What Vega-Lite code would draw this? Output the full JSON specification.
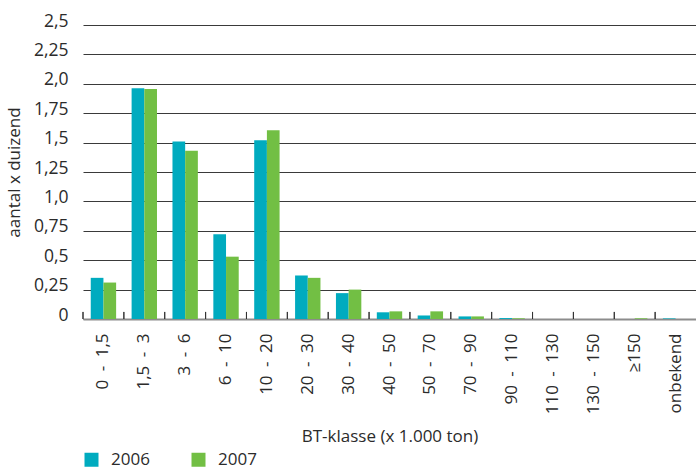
{
  "$schema": "https://vega.github.io/schema/vega-lite/v6.json",
  "autosize": {"type": "none"},
  "padding": {"left": 83, "top": 25, "right": 0, "bottom": 148},
  "width": 613,
  "height": 294,
  "background": "white",
  "config": {
    "view": {"stroke": null},
    "font": "Open Sans",
    "axisY": {
      "titleFont": "Open Sans",
      "titleFontSize": 17,
      "titleFontWeight": "normal",
      "titleColor": "#2b2b2b",
      "titlePadding": 10,
      "labelFont": "Open Sans",
      "labelFontSize": 17.5,
      "labelColor": "#2b2b2b",
      "labelPadding": 15,
      "labelOffset": -4,
      "ticks": false,
      "domain": false,
      "grid": true,
      "gridColor": "#3a3a3a",
      "gridWidth": 1.2
    }
  },
  "data": {
    "values": [
      {"klasse": "0 - 1,5", "jaar": "2006", "waarde": 0.35},
      {"klasse": "0 - 1,5", "jaar": "2007", "waarde": 0.31},
      {"klasse": "1,5 - 3", "jaar": "2006", "waarde": 1.963},
      {"klasse": "1,5 - 3", "jaar": "2007", "waarde": 1.955},
      {"klasse": "3 - 6", "jaar": "2006", "waarde": 1.51},
      {"klasse": "3 - 6", "jaar": "2007", "waarde": 1.43},
      {"klasse": "6 - 10", "jaar": "2006", "waarde": 0.72},
      {"klasse": "6 - 10", "jaar": "2007", "waarde": 0.53},
      {"klasse": "10 - 20", "jaar": "2006", "waarde": 1.52},
      {"klasse": "10 - 20", "jaar": "2007", "waarde": 1.605},
      {"klasse": "20 - 30", "jaar": "2006", "waarde": 0.37},
      {"klasse": "20 - 30", "jaar": "2007", "waarde": 0.35},
      {"klasse": "30 - 40", "jaar": "2006", "waarde": 0.22},
      {"klasse": "30 - 40", "jaar": "2007", "waarde": 0.25},
      {"klasse": "40 - 50", "jaar": "2006", "waarde": 0.057},
      {"klasse": "40 - 50", "jaar": "2007", "waarde": 0.065},
      {"klasse": "50 - 70", "jaar": "2006", "waarde": 0.03},
      {"klasse": "50 - 70", "jaar": "2007", "waarde": 0.065},
      {"klasse": "70 - 90", "jaar": "2006", "waarde": 0.022},
      {"klasse": "70 - 90", "jaar": "2007", "waarde": 0.022},
      {"klasse": "90 - 110", "jaar": "2006", "waarde": 0.008},
      {"klasse": "90 - 110", "jaar": "2007", "waarde": 0.006},
      {"klasse": "110 - 130", "jaar": "2006", "waarde": 0},
      {"klasse": "110 - 130", "jaar": "2007", "waarde": 0},
      {"klasse": "130 - 150", "jaar": "2006", "waarde": 0},
      {"klasse": "130 - 150", "jaar": "2007", "waarde": 0},
      {"klasse": "≥150", "jaar": "2006", "waarde": 0},
      {"klasse": "≥150", "jaar": "2007", "waarde": 0.006},
      {"klasse": "onbekend", "jaar": "2006", "waarde": 0.005},
      {"klasse": "onbekend", "jaar": "2007", "waarde": 0}
    ]
  },
  "layer": [
    {
      "mark": {"type": "bar"},
      "encoding": {
        "x": {
          "field": "klasse",
          "type": "nominal",
          "sort": null,
          "scale": {"paddingInner": 0, "paddingOuter": 0},
          "axis": {
            "title": "BT-klasse (x 1.000 ton)",
            "titleFont": "Open Sans",
            "titleFontSize": 17,
            "titleFontWeight": "normal",
            "titleColor": "#2b2b2b",
            "titlePadding": 15,
            "labelFont": "Open Sans",
            "labelFontSize": 17,
            "labelColor": "#2b2b2b",
            "labelAngle": 270,
            "labelPadding": 14,
            "labelExpr": "replace(datum.label, ' - ', '\u2002-\u2002')",
            "ticks": false,
            "domainColor": "#8c8c8c",
            "domainWidth": 2,
            "grid": false
          }
        },
        "xOffset": {"field": "jaar", "type": "nominal", "scale": {"paddingOuter": 0.61, "paddingInner": 0}},
        "y": {
          "field": "waarde",
          "type": "quantitative",
          "scale": {"domain": [0, 2.5], "nice": false},
          "axis": {
            "title": "aantal x duizend",
            "values": [0, 0.25, 0.5, 0.75, 1, 1.25, 1.5, 1.75, 2, 2.25, 2.5],
            "labelExpr": "datum.value == 0 ? '0' : replace(format(datum.value, (datum.value * 4) % 2 == 0 ? '.1f' : '.2f'), '.', ',')"
          }
        },
        "color": {
          "field": "jaar",
          "type": "nominal",
          "scale": {"domain": ["2006", "2007"], "range": ["#00abbf", "#72bf44"]},
          "legend": {
            "title": null,
            "orient": "none",
            "direction": "horizontal",
            "legendX": 0,
            "legendY": 426,
            "symbolType": "square",
            "symbolSize": 196,
            "symbolStrokeWidth": 0,
            "labelFont": "Open Sans",
            "labelFontSize": 17,
            "labelColor": "#2b2b2b",
            "labelOffset": 11,
            "columnPadding": 40,
            "padding": 0
          }
        }
      }
    },
    {
      "mark": {"type": "rule", "color": "#333333", "strokeWidth": 1},
      "encoding": {
        "x": {"field": "klasse", "type": "nominal", "sort": null, "bandPosition": 0},
        "y": {
          "datum": 0,
          "type": "quantitative",
          "axis": {
            "title": "aantal x duizend",
            "values": [0, 0.25, 0.5, 0.75, 1, 1.25, 1.5, 1.75, 2, 2.25, 2.5],
            "labelExpr": "datum.value == 0 ? '0' : replace(format(datum.value, (datum.value * 4) % 2 == 0 ? '.1f' : '.2f'), '.', ',')"
          }
        },
        "y2": {"datum": 0.06}
      }
    }
  ]
}
